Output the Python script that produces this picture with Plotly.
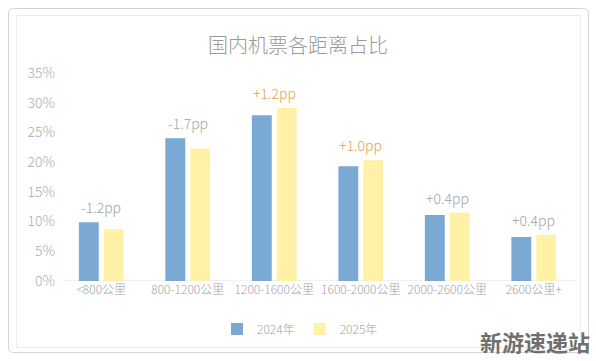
import plotly.graph_objects as go

categories = ["<800公里", "800-1200公里", "1200-1600公里", "1600-2000公里", "2000-2600公里", "2600公里+"]
values_2024 = [9.9, 24.0, 27.9, 19.3, 11.1, 7.4]
values_2025 = [8.7, 22.3, 29.1, 20.3, 11.5, 7.8]
change_labels = ["-1.2pp", "-1.7pp", "+1.2pp", "+1.0pp", "+0.4pp", "+0.4pp"]
highlight = [False, False, True, True, False, False]
y_ticks = [0, 5, 10, 15, 20, 25, 30, 35]
y_tick_labels = ["0%", "5%", "10%", "15%", "20%", "25%", "30%", "35%"]

W, H = 596, 361
L, R, T, B = 58, 19, 73, 80
PW, PH = W - L - R, H - T - B

def px(x):
    return (x - L) / PW

def py(y):
    return (H - B - y) / PH

FONT = "Noto Sans CJK SC, Noto Sans, sans-serif"
BLUE = "#7aaad3"
YELLOW = "#fff1a6"
GRAY = "#a3a3a3"
ORANGE = "#e9a04e"

fig = go.Figure()
fig.add_trace(go.Bar(x=categories, y=values_2024, name="2024年", marker=dict(color=BLUE, line=dict(width=0))))
fig.add_trace(go.Bar(x=categories, y=values_2025, name="2025年", marker=dict(color=YELLOW, line=dict(width=0))))

annotations = []
for c, a, b, lab, hl in zip(categories, values_2024, values_2025, change_labels, highlight):
    annotations.append(dict(x=c, y=max(a, b), xref="x", yref="y", text=lab, showarrow=False,
                            yanchor="bottom", yshift=3,
                            font=dict(family=FONT, size=14, color=ORANGE if hl else GRAY, weight=300)))

annotations.append(dict(x=px(298), y=py(44), xref="paper", yref="paper", text="国内机票各距离占比",
                        showarrow=False, xanchor="center", yanchor="middle",
                        font=dict(family=FONT, size=20, color="#999999", weight=300)))
annotations.append(dict(x=px(592), y=py(341), xref="paper", yref="paper", text="<b>新游速递站</b>",
                        showarrow=False, xanchor="right", yanchor="middle",
                        font=dict(family=FONT, size=22, color="#6f6f6f")))

def rounded(x0, y0, x1, y1, r):
    X0, X1 = px(x0), px(x1)
    Y0, Y1 = py(y0), py(y1)
    rx, ry = r / PW, r / PH
    return (f"M {X0+rx},{Y0} L {X1-rx},{Y0} Q {X1},{Y0} {X1},{Y0-ry} "
            f"L {X1},{Y1+ry} Q {X1},{Y1} {X1-rx},{Y1} L {X0+rx},{Y1} "
            f"Q {X0},{Y1} {X0},{Y1+ry} L {X0},{Y0-ry} Q {X0},{Y0} {X0+rx},{Y0} Z")

shapes = [
    dict(type="path", xref="paper", yref="paper", path=rounded(8.5, 8.5, 588.5, 352.5, 5),
         line=dict(color="#d4d4d4", width=1), fillcolor="rgba(0,0,0,0)", layer="below"),
    dict(type="rect", xref="paper", yref="paper", x0=px(16.5), x1=px(580.5), y0=py(15.5), y1=py(347.5),
         line=dict(color="#ececec", width=1), fillcolor="rgba(0,0,0,0)", layer="below"),
    dict(type="line", xref="paper", yref="y", x0=px(62), x1=px(577), y0=0, y1=0,
         line=dict(color="#e3e3e3", width=1), layer="below"),
]

fig.update_layout(
    width=W, height=H,
    margin=dict(l=L, r=R, t=T, b=B, pad=0),
    paper_bgcolor="white", plot_bgcolor="white",
    barmode="group", bargap=0.425, bargroupgap=0.2,
    font=dict(family=FONT, color=GRAY, size=12),
    showlegend=True,
    legend=dict(orientation="h", x=px(300), xanchor="center", y=py(329), yanchor="middle",
                font=dict(family=FONT, size=12, color=GRAY, weight=300), itemwidth=30,
                bgcolor="rgba(0,0,0,0)"),
    annotations=annotations,
    shapes=shapes,
    xaxis=dict(showgrid=False, showline=False, zeroline=False, ticks="",
               tickfont=dict(family=FONT, size=12, color=GRAY, weight=300), fixedrange=True),
    yaxis=dict(range=[0, 35], tickvals=y_ticks, ticktext=y_tick_labels, showgrid=False,
               zeroline=False, showline=False, ticks="", ticklabelstandoff=2,
               tickfont=dict(family=FONT, size=14, color="#acacac", weight=300), fixedrange=True),
)

fig.write_html("out.html", config={"displayModeBar": False},
               post_script="document.body.style.margin='0';document.body.style.overflow='hidden';")
